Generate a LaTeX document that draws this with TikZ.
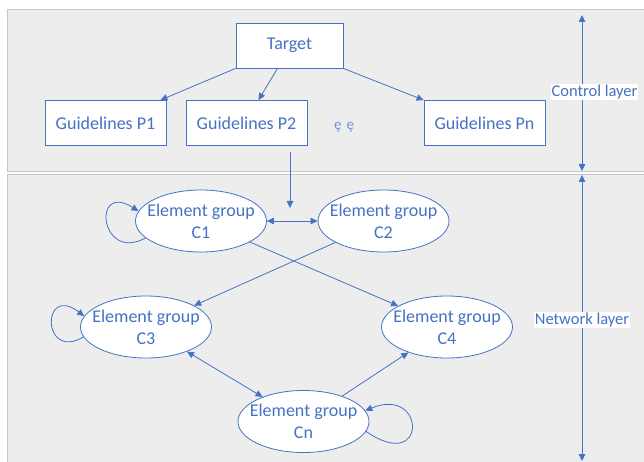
\documentclass[tikz,border=0pt]{standalone}
\usepackage{fontspec}
\setmainfont{Carlito}
\usetikzlibrary{shapes.geometric,arrows.meta}
\definecolor{officeblue}{HTML}{4472C4}
\definecolor{panelgray}{HTML}{EDEDED}
\definecolor{panelline}{HTML}{C8C8C8}

\begin{document}
\begin{tikzpicture}[x=1pt,y=-1pt]
    \useasboundingbox (0,0) rectangle (644,462);

    % Styling
    \tikzset{
        c_panel/.style={fill=panelgray, draw=panelline, line width=1pt},
        c_box/.style={draw=officeblue, fill=white, line width=0.8pt, text=officeblue,
            font=\fontsize{18}{22}\selectfont, minimum height=45pt, inner sep=0pt},
        c_group/.style={ellipse, draw=officeblue, fill=white, line width=0.8pt, text=officeblue,
            font=\fontsize{18}{22}\selectfont, align=center, minimum width=131pt,
            minimum height=62pt, inner xsep=-14pt, inner ysep=0pt},
        c_link/.style={draw=officeblue, line width=0.8pt, -{Triangle[length=7pt,width=6.5pt]}},
        c_both/.style={c_link, {Triangle[length=7pt,width=6.5pt]}-{Triangle[length=7pt,width=6.5pt]}},
        c_layer/.style={fill=white, text=officeblue, font=\fontsize{16.5}{19}\selectfont, inner sep=1pt}
    }

    % Draw layers
    \draw[c_panel] (7,10) rectangle (652,172);
    \draw[c_panel] (7,175) rectangle (652,470);

    % Control layer
    \node[c_box, minimum width=107pt] (target) at (289.5,45.5) {Target};
    \node[c_box, minimum width=121pt] (p1) at (105.5,123) {Guidelines P1};
    \node[c_box, minimum width=121pt] (p2) at (246.5,123) {Guidelines P2};
    \node[c_box, minimum width=121pt] (pn) at (484.5,123) {Guidelines Pn};
    \node[text=officeblue!75, font=\fontsize{15}{18}\selectfont] (dots) at (344,127) {ȩ\hspace{5pt}ȩ};

    \draw[c_link] (target.south west) -- ([xshift=-6pt]p1.north east);
    \draw[c_link] ([xshift=-12pt]target.south) -- ([xshift=12pt]p2.north);
    \draw[c_link] (target.south east) -- (pn.north west);

    % Network layer
    \node[c_group] (c1) at (201,221) {Element group\\C1};
    \node[c_group] (c2) at (383.5,221) {Element group\\C2};
    \node[c_group] (c3) at (146,327) {Element group\\C3};
    \node[c_group] (c4) at (447,327) {Element group\\C4};
    \node[c_group] (cn) at (303.5,421.5) {Element group\\Cn};

    \coordinate (p2out) at (290,152);
    \coordinate (netin) at (290,208);
    \draw[c_link] (p2out) -- (netin);

    \draw[c_both] (c1) -- (c2);
    \draw[c_link] (c1) -- (c4);
    \draw[c_link] (c2) -- (c3);
    \draw[c_both] (c3) -- (cn);
    \draw[c_link] (cn) -- (c4);

    % Self loops
    \draw[c_link] (c1.197) .. controls +(-46,25) and +(-47,-30) .. (c1.171);
    \draw[c_link] (c3.189) .. controls +(-42,25) and +(-43,-33) .. (c3.170);
    \draw[c_link] (cn.351) .. controls +(62,43) and +(61,-25) .. (cn.10);

    % Layer spans
    \coordinate (ctltop) at (582,15);
    \coordinate (ctlbot) at (582,171);
    \coordinate (nettop) at (582,175);
    \coordinate (netbot) at (582,461);
    \draw[c_both] (ctltop) -- (ctlbot);
    \draw[c_both] (nettop) -- (netbot);

    % Labels
    \node[c_layer] (ctllabel) at (594.5,92) {Control layer};
    \node[c_layer] (netlabel) at (582,320) {Network layer};
\end{tikzpicture}
\end{document}
